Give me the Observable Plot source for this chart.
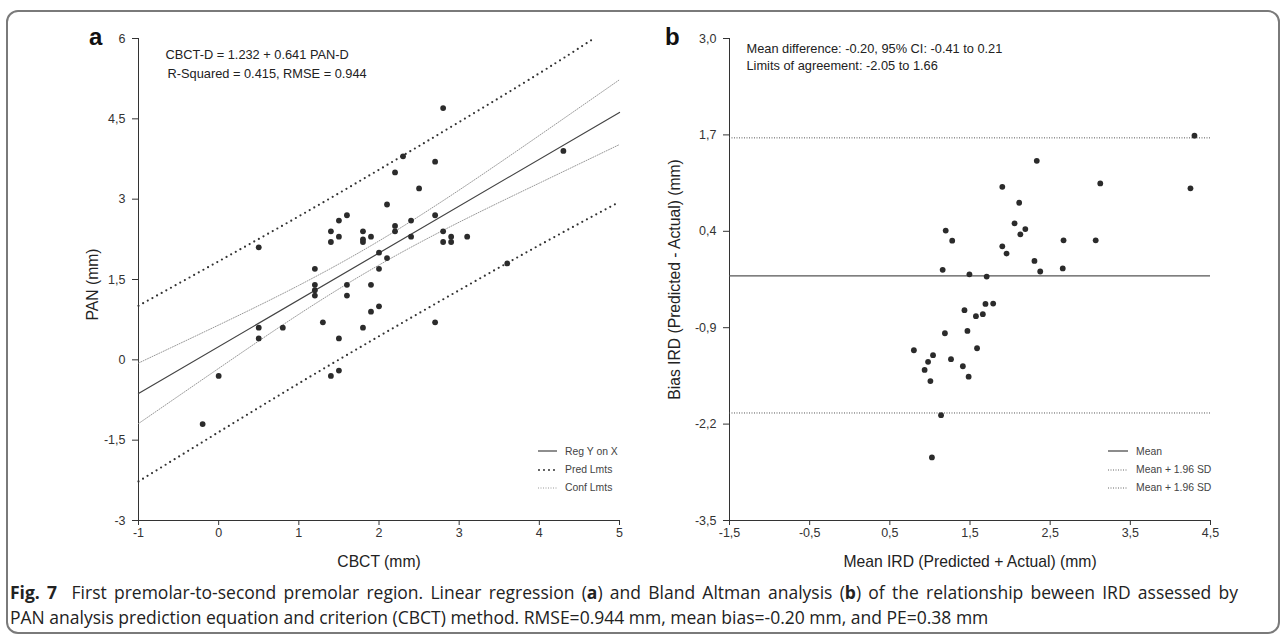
<!DOCTYPE html>
<html><head><meta charset="utf-8">
<script src="https://cdn.jsdelivr.net/npm/d3@7"></script>
<script src="https://cdn.jsdelivr.net/npm/@observablehq/plot@0.6"></script>
<style>
body{margin:0;background:#fff;width:1286px;height:635px;position:relative;overflow:hidden;font-family:"Liberation Sans",Arial,sans-serif;}
#frame{position:absolute;left:6px;top:10px;width:1270px;height:620px;border:2px solid #7a7a7a;border-radius:12px;}
.panel{position:absolute;top:0;}
.lbl{position:absolute;font-weight:bold;font-size:24px;color:#111;font-family:"Liberation Sans",Arial,sans-serif;}
.legend{position:absolute;font-size:10.4px;color:#444;}
.legend div{height:18.4px;display:flex;align-items:center;}
.legend svg{margin-right:8px;}
.cap{position:absolute;left:10px;width:1228px;font-family:"Open Sans",sans-serif;font-size:17.5px;line-height:25px;color:#222;white-space:nowrap;}
#cap1{top:580px;text-align:justify;text-align-last:justify;}
#cap2{top:605px;}
</style>
</head><body>
<div id="frame"></div>
<div id="pa" class="panel" style="left:0"></div>
<div id="pb" class="panel" style="left:640px"></div>
<div class="lbl" style="left:89px;top:23px">a</div>
<div class="lbl" style="left:665px;top:23px">b</div>
<div class="legend" style="left:538px;top:442px">
  <div><svg width="19" height="4"><line x1="0" y1="2" x2="19" y2="2" stroke="#444" stroke-width="1.2"/></svg>Reg Y on X</div>
  <div><svg width="19" height="4"><line x1="1" y1="2" x2="19" y2="2" stroke="#333" stroke-width="2" stroke-dasharray="0,5" stroke-linecap="round"/></svg>Pred Lmts</div>
  <div><svg width="19" height="4"><line x1="0" y1="2" x2="19" y2="2" stroke="#999" stroke-width="1" stroke-dasharray="1,1.5"/></svg>Conf Lmts</div>
</div>
<div class="legend" style="left:1108px;top:442px">
  <div><svg width="20" height="4"><line x1="0" y1="2" x2="20" y2="2" stroke="#666" stroke-width="1.5"/></svg>Mean</div>
  <div><svg width="20" height="4"><line x1="0" y1="2" x2="20" y2="2" stroke="#666" stroke-width="1" stroke-dasharray="1,1.5"/></svg>Mean + 1.96 SD</div>
  <div><svg width="20" height="4"><line x1="0" y1="2" x2="20" y2="2" stroke="#666" stroke-width="1" stroke-dasharray="1,1.5"/></svg>Mean + 1.96 SD</div>
</div>
<div id="cap1" class="cap"><b>Fig. 7</b>&nbsp; First premolar-to-second premolar region. Linear regression (<b>a</b>) and Bland Altman analysis (<b>b</b>) of the relationship beween IRD assessed by</div>
<div id="cap2" class="cap">PAN analysis prediction equation and criterion (CBCT) method. RMSE=0.944 mm, mean bias=-0.20 mm, and PE=0.38 mm</div>
<script>
// ---- Panel a: linear regression ----
const cbct = [-0.2,0,0.5,0.5,0.5,0.8,1.2,1.2,1.2,1.2,1.3,1.4,1.4,1.4,1.5,1.5,1.5,1.5,1.6,1.6,1.6,1.8,1.8,1.8,1.8,1.9,1.9,1.9,2.0,2.0,2.0,2.1,2.1,2.2,2.2,2.2,2.3,2.4,2.4,2.5,2.7,2.7,2.7,2.8,2.8,2.8,2.9,2.9,3.1,3.6,4.3];
const pan  = [-1.2,-0.3,2.1,0.6,0.4,0.6,1.7,1.4,1.3,1.2,0.7,2.4,2.2,-0.3,2.6,2.3,0.4,-0.2,2.7,1.4,1.2,2.4,2.25,2.2,0.6,2.3,1.4,0.9,2.0,1.7,1.0,2.9,1.9,3.5,2.5,2.4,3.8,2.6,2.3,3.2,3.7,2.7,0.7,4.7,2.4,2.2,2.3,2.2,2.3,1.8,3.9];
const regX = [-1, 5];
const regY = [-0.63, 4.62];
const predUpX = [-1, 0, 1, 2, 3, 4, 4.68];
const predUpY = [1.01, 1.84, 2.68, 3.55, 4.44, 5.35, 6.0];
const predLoX = [-1, 0, 1, 2, 3, 4, 5];
const predLoY = [-2.27, -1.35, -0.44, 0.44, 1.30, 2.14, 2.95];
const confX = [-1, 0, 1, 2, 3, 4, 5];
const confUpY = [-0.06, 0.65, 1.39, 2.22, 3.17, 4.19, 5.23];
const confLoY = [-1.19, -0.16, 0.85, 1.77, 2.57, 3.30, 4.02];
const xTicksA = [-1, 0, 1, 2, 3, 4, 5];
const yTicksA = [-3, -1.5, 0, 1.5, 3, 4.5, 6];
const eqText = ["CBCT-D = 1.232 + 0.641 PAN-D", "R-Squared = 0.415, RMSE = 0.944"];

// ---- Panel b: Bland Altman ----
const baMean = [4.30,2.333,3.125,4.25,1.903,2.113,2.056,2.19,2.128,1.197,1.278,2.667,3.068,1.903,1.956,2.304,2.376,2.657,1.159,1.493,1.708,1.431,1.574,1.66,1.693,1.789,1.187,1.468,1.588,0.80,1.039,0.977,1.263,1.411,0.934,1.006,1.483,1.139,1.025];
const baDiff = [1.69,1.35,1.045,0.98,1.0,0.785,0.507,0.43,0.359,0.41,0.273,0.278,0.278,0.197,0.10,0.0,-0.142,-0.10,-0.12,-0.18,-0.21,-0.664,-0.745,-0.718,-0.58,-0.574,-0.975,-0.943,-1.177,-1.204,-1.27,-1.36,-1.325,-1.42,-1.47,-1.62,-1.56,-2.08,-2.65];
const meanDiff = -0.20;
const loaLower = -2.05, loaUpper = 1.66;
const xTicksB = [-1.5, -0.5, 0.5, 1.5, 2.5, 3.5, 4.5];
const yTicksB = [-3.5, -2.2, -0.9, 0.4, 1.7, 3.0];
const baText = ["Mean difference: -0.20, 95% CI: -0.41 to 0.21", "Limits of agreement: -2.05 to 1.66"];

const comma = d => String(d).replace(".", ",");
const comma1 = d => d.toFixed(1).replace(".", ",");
const font = '"Liberation Sans", Arial, sans-serif';
const ink = "#333";

const ptsA = cbct.map((x, i) => ({x, y: pan[i]}));
const toPts = (xs, ys) => xs.map((x, i) => ({x, y: ys[i]}));

const plotA = Plot.plot({
  width: 640, height: 580,
  marginLeft: 138, marginRight: 21, marginTop: 38, marginBottom: 60,
  x: {domain: [-1, 5]},
  y: {domain: [-3, 6]},
  style: {fontFamily: font, fontSize: "12.5px", color: ink, background: "transparent"},
  marks: [
    Plot.axisX({ticks: xTicksA, tickFormat: comma, tickSize: 5, tickPadding: 3, label: null, stroke: ink}),
    Plot.axisY({ticks: yTicksA, tickFormat: comma, tickSize: 6, tickPadding: 7, label: null, stroke: ink}),
    Plot.ruleX([-1], {stroke: ink}),
    Plot.ruleY([-3], {stroke: ink}),
    Plot.line(toPts(confX, confUpY), {x: "x", y: "y", curve: "natural", stroke: "#999", strokeWidth: 1, strokeDasharray: "1,1.5"}),
    Plot.line(toPts(confX, confLoY), {x: "x", y: "y", curve: "natural", stroke: "#999", strokeWidth: 1, strokeDasharray: "1,1.5"}),
    Plot.line(toPts(predUpX, predUpY), {x: "x", y: "y", curve: "natural", stroke: "#333", strokeWidth: 2.2, strokeDasharray: "0,5.3", strokeLinecap: "round"}),
    Plot.line(toPts(predLoX, predLoY), {x: "x", y: "y", curve: "natural", stroke: "#333", strokeWidth: 2.2, strokeDasharray: "0,5.3", strokeLinecap: "round"}),
    Plot.line(toPts(regX, regY), {x: "x", y: "y", stroke: "#444", strokeWidth: 1.2}),
    Plot.dot(ptsA, {x: "x", y: "y", r: 2.9, fill: "#2b2b2b", stroke: "none"}),
    Plot.text([eqText[0]], {frameAnchor: "top-left", dx: 27, dy: 16, textAnchor: "start", lineAnchor: "middle", fontSize: 12.8, fill: "#222"}),
    Plot.text([eqText[1]], {frameAnchor: "top-left", dx: 29, dy: 35, textAnchor: "start", lineAnchor: "middle", fontSize: 12.8, fill: "#222"}),
    Plot.text(["CBCT (mm)"], {frameAnchor: "bottom", dy: 41, textAnchor: "middle", lineAnchor: "middle", fontSize: 15.7, fill: "#222"}),
    Plot.text(["PAN (mm)"], {frameAnchor: "left", dx: -46, dy: 5, rotate: -90, textAnchor: "middle", lineAnchor: "middle", fontSize: 15.7, fill: "#222"})
  ]
});
document.getElementById("pa").append(plotA);

const ptsB = baMean.map((x, i) => ({x, y: baDiff[i]}));
const plotB = Plot.plot({
  width: 646, height: 580,
  marginLeft: 89, marginRight: 76, marginTop: 38, marginBottom: 60,
  x: {domain: [-1.5, 4.5]},
  y: {domain: [-3.5, 3.0]},
  style: {fontFamily: font, fontSize: "12.5px", color: ink, background: "transparent"},
  marks: [
    Plot.axisX({ticks: xTicksB, tickFormat: comma1, tickSize: 5, tickPadding: 3, label: null, stroke: ink}),
    Plot.axisY({ticks: yTicksB, tickFormat: comma1, tickSize: 6, tickPadding: 7, label: null, stroke: ink}),
    Plot.ruleX([-1.5], {stroke: ink}),
    Plot.ruleY([-3.5], {stroke: ink}),
    Plot.ruleY([loaUpper, loaLower], {stroke: "#555", strokeWidth: 1, strokeDasharray: "1,1.5"}),
    Plot.ruleY([meanDiff], {stroke: "#555", strokeWidth: 1.3}),
    Plot.dot(ptsB, {x: "x", y: "y", r: 2.9, fill: "#2b2b2b", stroke: "none"}),
    Plot.text([baText[0]], {frameAnchor: "top-left", dx: 17, dy: 10, textAnchor: "start", lineAnchor: "middle", fontSize: 12.8, fill: "#222"}),
    Plot.text([baText[1]], {frameAnchor: "top-left", dx: 17, dy: 27, textAnchor: "start", lineAnchor: "middle", fontSize: 12.8, fill: "#222"}),
    Plot.text(["Mean IRD (Predicted + Actual) (mm)"], {frameAnchor: "bottom", dy: 41, textAnchor: "middle", lineAnchor: "middle", fontSize: 15.7, fill: "#222"}),
    Plot.text(["Bias IRD (Predicted - Actual) (mm)"], {frameAnchor: "left", dx: -55, rotate: -90, textAnchor: "middle", lineAnchor: "middle", fontSize: 15.7, fill: "#222"})
  ]
});
document.getElementById("pb").append(plotB);
</script>
</body></html>
